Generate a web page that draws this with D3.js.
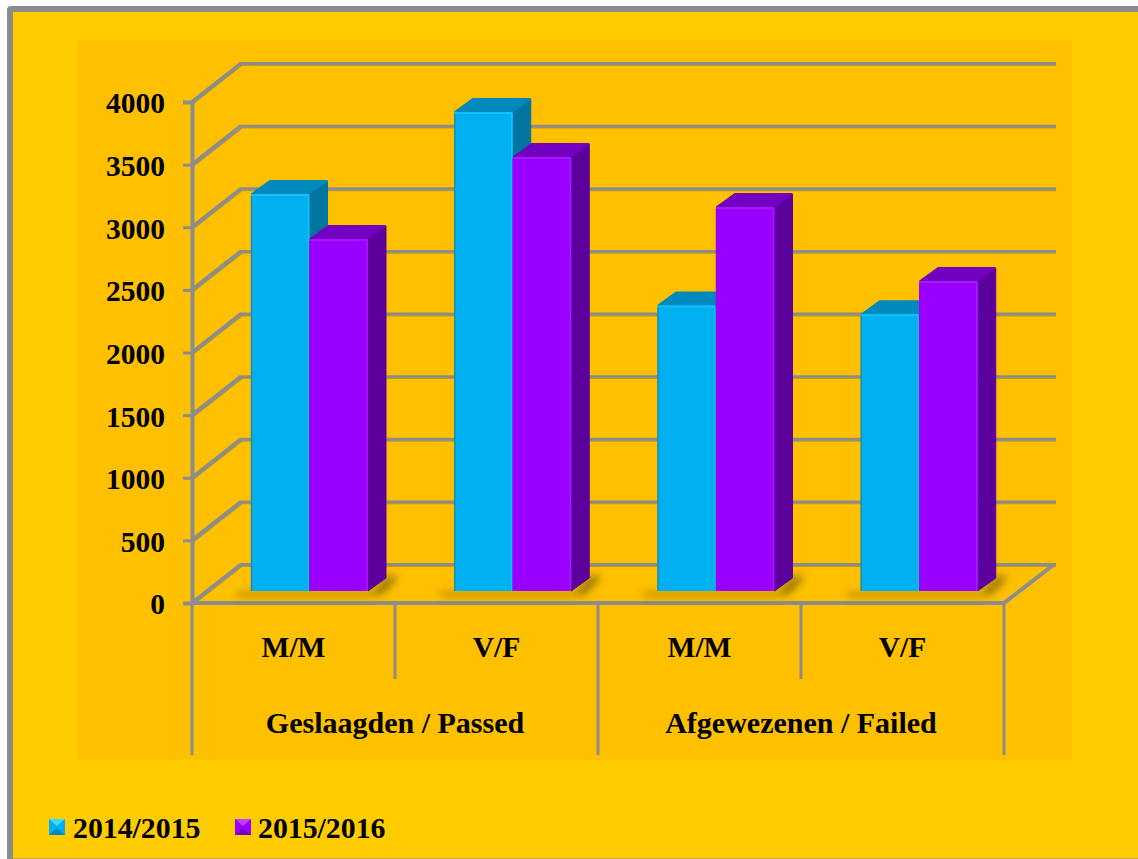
<!DOCTYPE html>
<html><head><meta charset="utf-8">
<script src="https://cdn.jsdelivr.net/npm/d3@7"></script>
<style>html,body{margin:0;padding:0;background:#fff;overflow:hidden}svg{display:block}text{font-family:"Liberation Serif",serif;font-weight:700;fill:#000}</style>
</head><body><svg id="c" width="1138" height="859"></svg>
<script>
const categories=["M/M","V/F","M/M","V/F"];
const groups=["Geslaagden / Passed","Afgewezenen / Failed"];
const seriesNames=["2014/2015","2015/2016"];
const values2014=[3170,3825,2280,2210];
const values2015=[2810,3465,3065,2475];
const yTicks=[0,500,1000,1500,2000,2500,3000,3500,4000];
const colors=[{front:"#00B0F0",side:"#00759F",top:"#0089BC",edge:"#1A8FA8",hi:"#12C2FF"},
              {front:"#9900FF",side:"#5C009B",top:"#7300C0",edge:"#9900FF",hi:"#A818FF"}];

const svg=d3.select("#c");
const W=1138,H=859,grey="#8C8C8C";
// page, border, plot area
svg.append("rect").attr("width",W).attr("height",H).attr("fill","#fff");
svg.append("path").attr("d",`M${W},6H11Q7,6 7,10V${H}H${W}Z`).attr("fill",grey);
svg.append("rect").attr("x",13).attr("y",12).attr("width",W-13).attr("height",H-13).attr("fill","#FFCC00");
svg.append("rect").attr("x",13).attr("y",H-1).attr("width",W-13).attr("height",1).attr("fill","#C9A93A");
svg.append("rect").attr("x",77).attr("y",40).attr("width",995).attr("height",720).attr("fill","#FFC000");

const defs=svg.append("defs");
defs.append("filter").attr("id","blur").attr("x","-30%").attr("y","-100%").attr("width","160%").attr("height","300%")
  .append("feGaussianBlur").attr("stdDeviation",4);
defs.append("filter").attr("id","lineShadow").attr("x","-5%").attr("y","-50%").attr("width","110%").attr("height","200%")
  .append("feDropShadow").attr("dx",0).attr("dy",1).attr("stdDeviation",.6).attr("flood-color","#A08A20").attr("flood-opacity",.7);

const y=d3.scaleLinear().domain([0,4000]).range([603,102]);
const x=d3.scaleBand().domain(d3.range(categories.length)).range([192,1004]);
const xBars=d3.scaleBand().domain(d3.range(categories.length)).range([192,1005]);
const wallDx=49,wallDy=-38.5;
// gridlines on the back wall and the side wall
const walls=svg.append("g").attr("filter","url(#lineShadow)");
yTicks.forEach(t=>{
  const yy=y(t);
  walls.append("path").attr("d",`M192,${yy}L${192+wallDx},${yy+wallDy}`)
    .attr("fill","none").attr("stroke",grey).attr("stroke-width",4);
  walls.append("path").attr("d",`M${192+wallDx-1},${yy+wallDy}H${1004+wallDx+3}`)
    .attr("fill","none").attr("stroke",grey).attr("stroke-width",2.8);
});
// floor
svg.append("path").attr("d",`M190,${y(0)}H1004L${1004+wallDx+1},${y(0)+wallDy}`).attr("fill","none").attr("stroke",grey).attr("stroke-width",4);

// value axis
const axisG=svg.append("g").attr("transform","translate(192,0)")
  .call(d3.axisLeft(y).tickValues(yTicks).tickSize(9).tickFormat(d3.format("d")));
axisG.selectAll(".domain").attr("stroke",grey).attr("stroke-width",4);
axisG.selectAll(".tick line").attr("stroke",grey).attr("stroke-width",3);
axisG.selectAll(".tick text").attr("font-size",29.5).attr("x",-27).attr("dy",".37em").attr("fill","#000")
  .style("font-family","Liberation Serif").style("font-weight",700);

// category separators
const sep=(px,y1,y2)=>svg.append("line").attr("x1",px).attr("x2",px).attr("y1",y1).attr("y2",y2).attr("stroke",grey).attr("stroke-width",3);
d3.range(categories.length+1).forEach(i=>{
  const px=i<categories.length?x(i):x.range()[1];
  sep(px,604,i%2===0?755:679);
});
categories.forEach((c,i)=>svg.append("text").attr("x",x(i)+x.bandwidth()/2).attr("y",657).attr("text-anchor","middle").attr("font-size",29.5).text(c));
groups.forEach((g,i)=>svg.append("text").attr("x",x(i*2)+x.bandwidth()).attr("y",733).attr("text-anchor","middle").attr("font-size",30).text(g));

// 3D bars
const baseY=591,bw=58.5,inset=59,dx=18,dy=-13;
const h=v=>y(0)-y(v);
categories.forEach((c,i)=>{
  const left=xBars(i)+inset;
  const right=left+bw*2+dx;
  svg.append("path").attr("d",`M${left-14},${baseY+2}H${left+bw*2+4}L${right+2},${baseY-15}L${right+12},${baseY-15}L${left+bw*2+14},${baseY+3}L${left+bw*2},${baseY+5}H${left-14}Z`)
    .attr("fill","#6E5A00").attr("opacity",.85).attr("filter","url(#blur)");
  [values2014,values2015].forEach((vals,s)=>{
    const col=colors[s],x0=left+s*bw,top=baseY-h(vals[i]);
    const g=svg.append("g");
    g.append("path").attr("d",`M${x0+bw},${baseY}V${top}L${x0+bw+dx},${top+dy}V${baseY+dy}Z`).attr("fill",col.side).attr("stroke",col.side).attr("stroke-linejoin","round");
    g.append("path").attr("d",`M${x0+1},${top}L${x0+dx+1},${top+dy}H${x0+bw+dx-1}L${x0+bw-1},${top}Z`).attr("fill",col.top).attr("stroke",col.top).attr("stroke-width",2).attr("stroke-linejoin","round");
    g.append("rect").attr("x",x0).attr("y",top).attr("width",bw).attr("height",baseY-top).attr("fill",col.front).attr("rx",1);
    g.append("path").attr("d",`M${x0+1},${top+1}H${x0+bw-1}`).attr("fill","none").attr("stroke",col.hi).attr("stroke-width",2);
    g.append("path").attr("d",`M${x0+bw-1},${top+1}V${baseY}`).attr("fill","none").attr("stroke",col.hi).attr("stroke-width",1.5);
    g.append("line").attr("x1",x0+.5).attr("x2",x0+.5).attr("y1",top+2).attr("y2",baseY).attr("stroke",col.edge).attr("stroke-width",1.5);
  });
});

// legend
const legendX=[49,235],legendTextX=[73,258];
seriesNames.forEach((n,s)=>{
  const lx=legendX[s],ly=819,sz=16,col=colors[s],m=7;
  const g=svg.append("g");
  g.append("rect").attr("x",lx).attr("y",ly).attr("width",sz).attr("height",sz).attr("fill",col.front);
  g.append("path").attr("d",`M${lx},${ly}H${lx+sz}L${lx+sz/2},${ly+m}Z`).attr("fill",s?"#C040FF":"#40D8FF");
  g.append("path").attr("d",`M${lx},${ly+sz}H${lx+sz}L${lx+sz/2},${ly+sz-m}Z`).attr("fill",col.top);
  svg.append("text").attr("x",legendTextX[s]).attr("y",838).attr("font-size",29.8).text(n);
});
</script></body></html>
